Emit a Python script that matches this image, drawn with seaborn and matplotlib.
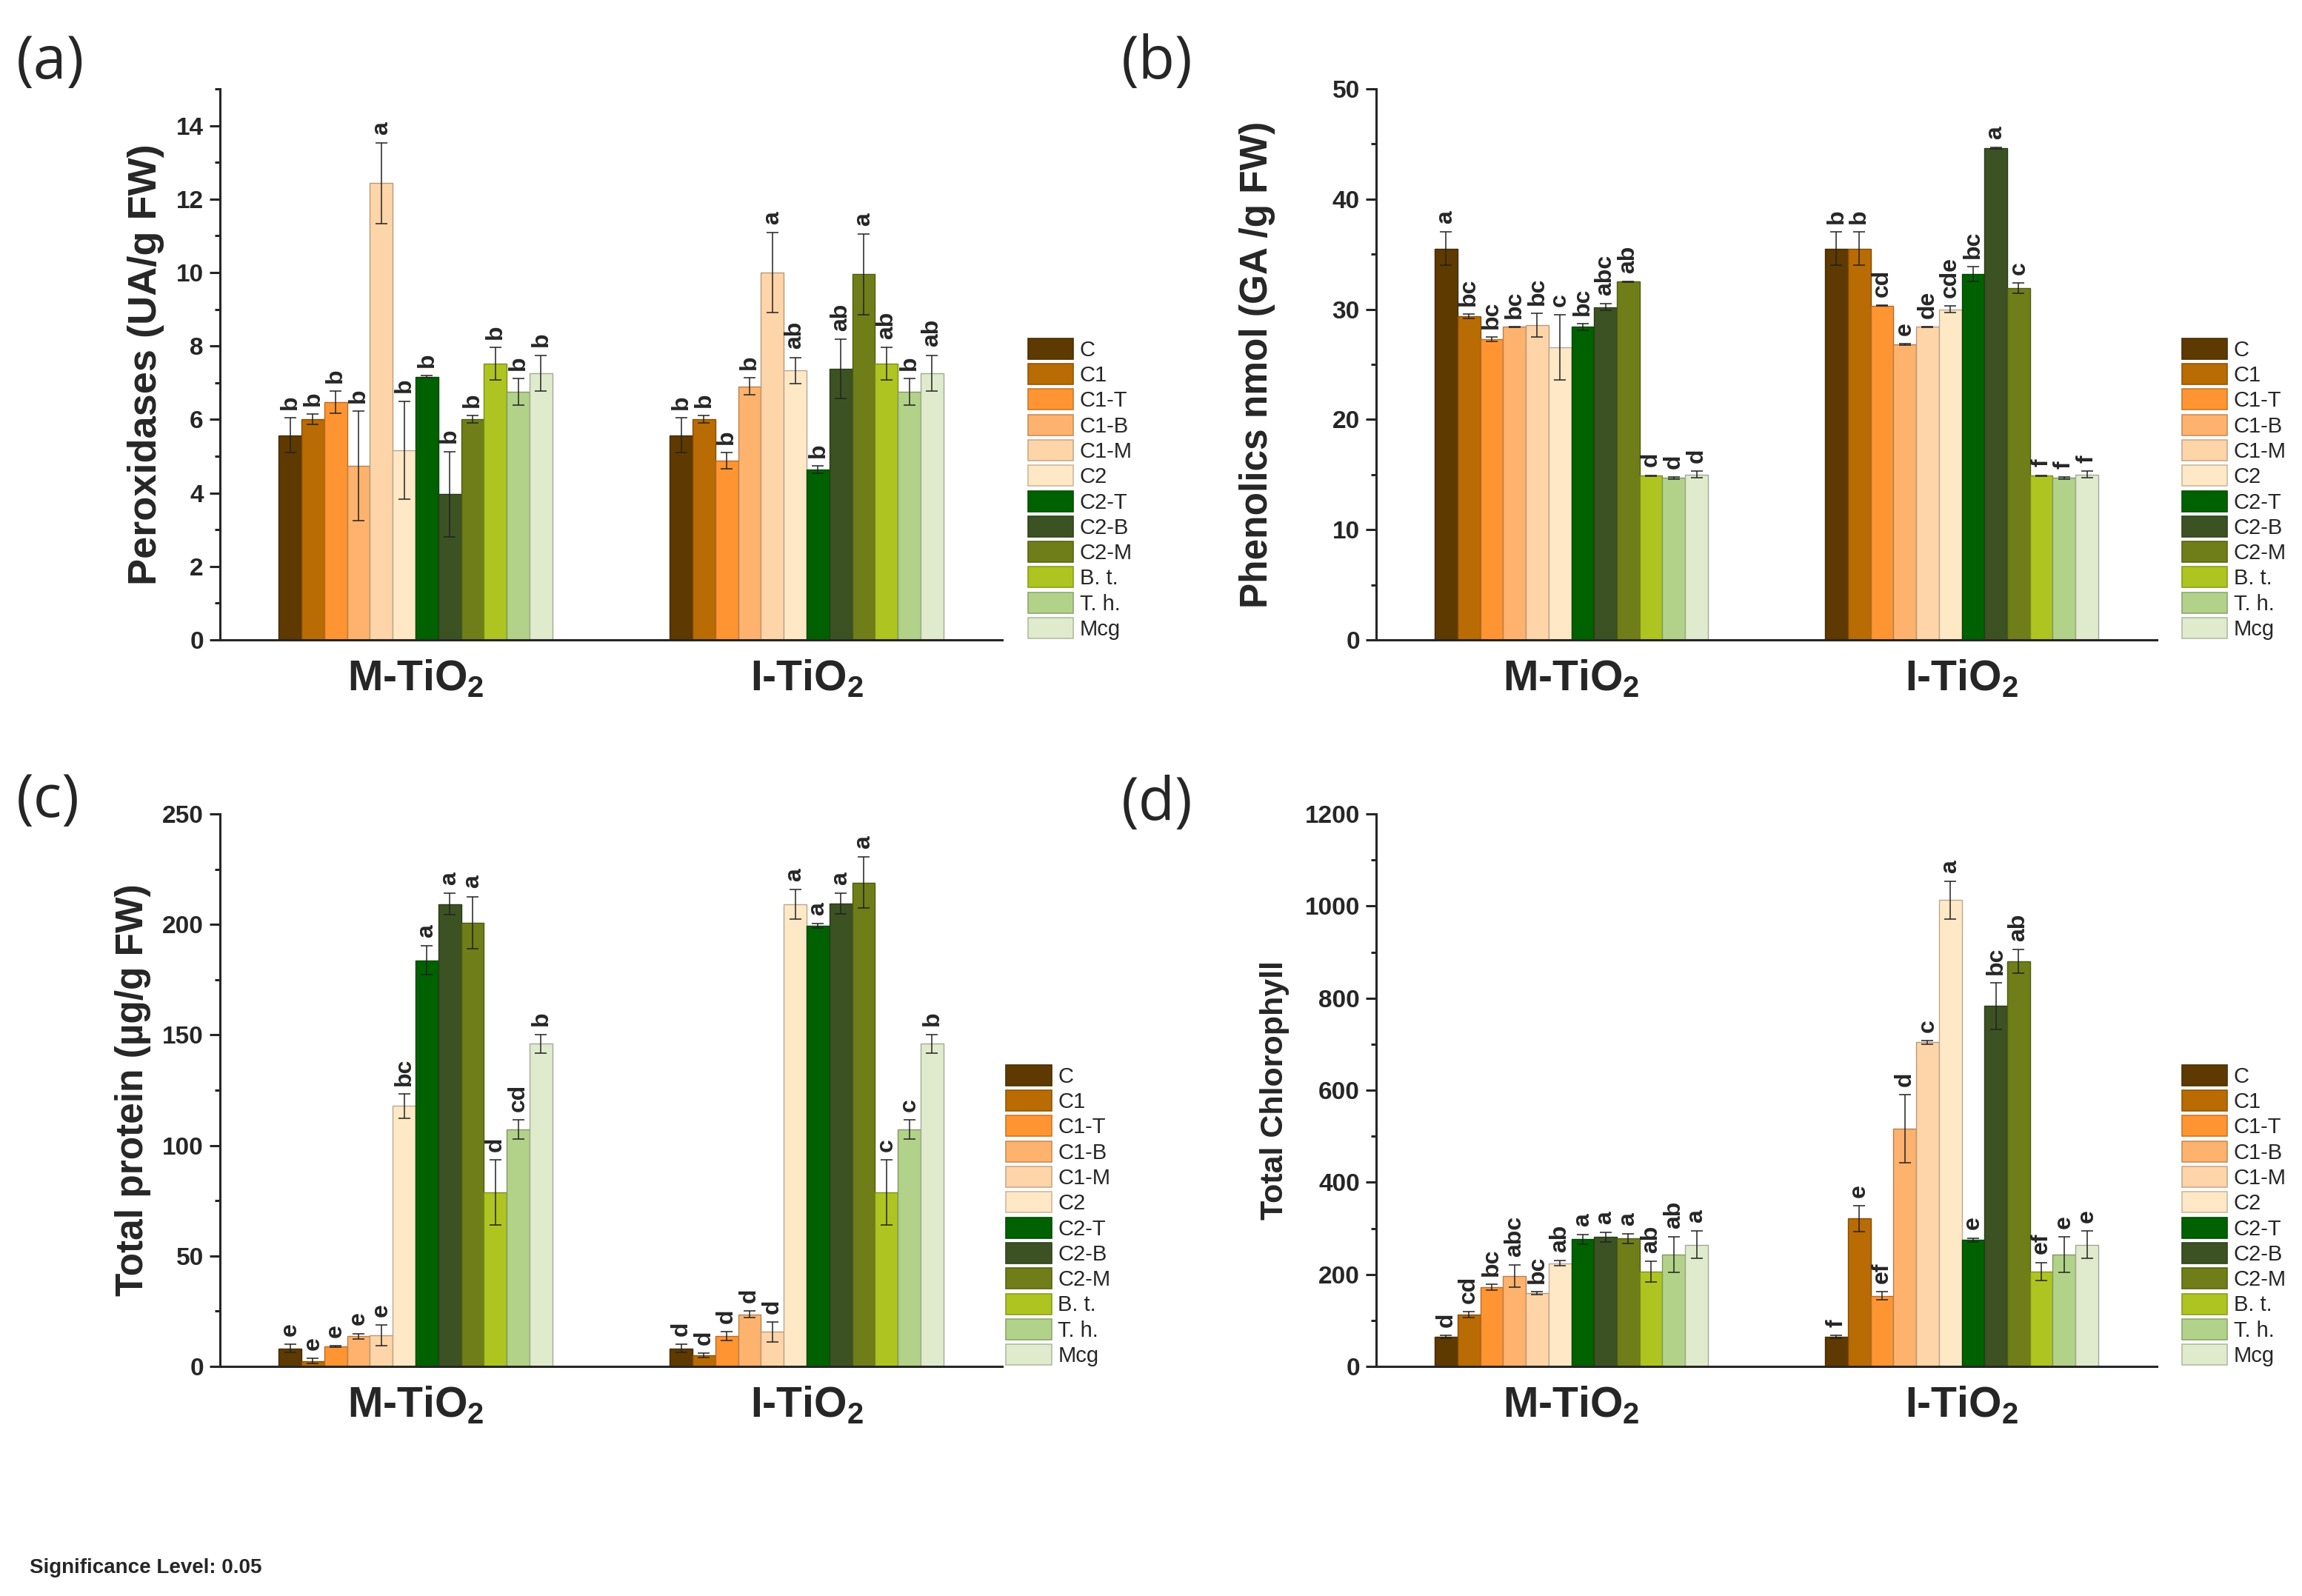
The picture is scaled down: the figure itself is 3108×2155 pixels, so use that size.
import numpy as np
import pandas as pd
import matplotlib
matplotlib.use('Agg')
import matplotlib.pyplot as plt
import matplotlib.colors as mcolors
from matplotlib.patches import Patch
from matplotlib.ticker import AutoMinorLocator, MultipleLocator
import seaborn as sns

# treatments / groups
treatments = ['C', 'C1', 'C1-T', 'C1-B', 'C1-M', 'C2', 'C2-T', 'C2-B', 'C2-M', 'B. t.', 'T. h.', 'Mcg']
groups = ['M-TiO$_{\\mathbf{2}}$', 'I-TiO$_{\\mathbf{2}}$']
colors = ['#5E3A00', '#B96B04', '#FE9532', '#FDB26E', '#FED4A9', '#FFE8C6',
          '#006100', '#3C5223', '#6F7E18', '#AEC521', '#B2D289', '#E0EBCD']

# (a) peroxidases
pox_m = [5.57, 6.0, 6.47, 4.73, 12.43, 5.17, 7.16, 3.97, 6.0, 7.52, 6.76, 7.26]
pox_m_err = [0.47, 0.14, 0.3, 1.49, 1.1, 1.33, 0.03, 1.16, 0.1, 0.44, 0.36, 0.49]
pox_m_let = ['b', 'b', 'b', 'b', 'a', 'b', 'b', 'b', 'b', 'b', 'b', 'b']
pox_i = [5.57, 6.0, 4.88, 6.9, 10.0, 7.33, 4.63, 7.38, 9.95, 7.52, 6.76, 7.26]
pox_i_err = [0.47, 0.1, 0.22, 0.23, 1.09, 0.36, 0.1, 0.81, 1.1, 0.44, 0.36, 0.49]
pox_i_let = ['b', 'b', 'b', 'b', 'a', 'ab', 'b', 'ab', 'a', 'ab', 'b', 'ab']

# (b) phenolics
phe_m = [35.5, 29.35, 27.3, 28.4, 28.58, 26.56, 28.4, 30.2, 32.5, 14.9, 14.7, 15.0]
phe_m_err = [1.5, 0.2, 0.2, 0.05, 1.07, 2.95, 0.28, 0.3, 0.05, 0.05, 0.1, 0.3]
phe_m_let = ['a', 'bc', 'bc', 'bc', 'bc', 'c', 'bc', 'abc', 'ab', 'd', 'd', 'd']
phe_i = [35.5, 35.5, 30.33, 26.8, 28.4, 30.0, 33.2, 44.64, 31.9, 14.9, 14.7, 15.0]
phe_i_err = [1.5, 1.5, 0.05, 0.05, 0.05, 0.3, 0.68, 0.05, 0.47, 0.05, 0.1, 0.3]
phe_i_let = ['b', 'b', 'cd', 'e', 'de', 'cde', 'bc', 'a', 'c', 'f', 'f', 'f']

# (c) total protein
pro_m = [8.15, 2.5, 9.1, 13.6, 14.1, 117.8, 183.8, 209.2, 200.8, 78.8, 107.2, 146.0]
pro_m_err = [1.8, 1.2, 0.3, 1.3, 4.6, 5.5, 6.5, 4.8, 11.8, 14.8, 4.4, 4.3]
pro_m_let = ['e', 'e', 'e', 'e', 'e', 'bc', 'a', 'a', 'a', 'd', 'cd', 'b']
pro_i = [8.15, 4.9, 13.6, 23.5, 15.6, 209.0, 199.4, 209.5, 218.9, 78.8, 107.2, 146.0]
pro_i_err = [1.8, 1.0, 2.0, 1.5, 4.4, 6.7, 1.0, 4.6, 11.6, 14.8, 4.4, 4.3]
pro_i_let = ['d', 'd', 'd', 'd', 'd', 'a', 'a', 'a', 'a', 'c', 'c', 'b']

# (d) total chlorophyll
chl_m = [64, 112.6, 172, 195.7, 159, 224, 276, 281, 277.5, 206, 243, 264.4]
chl_m_err = [3, 6, 7, 24, 3, 6, 10, 10, 10, 22, 38, 30]
chl_m_let = ['d', 'cd', 'bc', 'abc', 'bc', 'ab', 'a', 'a', 'a', 'ab', 'ab', 'a']
chl_i = [64, 321, 153, 515.8, 704, 1012.7, 275, 782.6, 879.9, 206, 243, 264.4]
chl_i_err = [3, 28, 9, 74, 4, 41, 4, 51, 25, 20, 38, 30]
chl_i_let = ['f', 'e', 'ef', 'd', 'c', 'a', 'e', 'bc', 'ab', 'ef', 'e', 'e']

sns.set_style('ticks')
plt.rcParams['font.family'] = ['Liberation Sans', 'DejaVu Sans']
plt.rcParams['mathtext.fontset'] = 'custom'
plt.rcParams['mathtext.bf'] = 'Liberation Sans:bold'
plt.rcParams['mathtext.rm'] = 'Liberation Sans'


def darker(c, f=0.72):
    r, g, b = mcolors.to_rgb(c)
    return (r * f, g * f, b * f)


def panel(ax, m, m_err, m_let, i, i_err, i_let, ylabel, ylabsize, ymax, ystep, labelpad, leg_x):
    df = pd.DataFrame({
        'group': [groups[0]] * len(treatments) + [groups[1]] * len(treatments),
        'treatment': treatments * 2,
        'value': m + i,
    })
    sns.barplot(data=df, x='group', y='value', hue='treatment', hue_order=treatments,
                order=groups, palette=colors, errorbar=None, width=0.7, gap=0,
                saturation=1, legend=False, ax=ax)
    errs = [m_err, i_err]
    lets = [m_let, i_let]
    bar_conts = list(ax.containers)
    for k, cont in enumerate(bar_conts):
        for g, bar in enumerate(cont):
            bar.set_edgecolor(darker(colors[k]))
            bar.set_linewidth(1.0)
            x = bar.get_x() + bar.get_width() / 2
            h = bar.get_height()
            e = errs[g][k]
            ax.errorbar(x, h, yerr=e, color='#222222', elinewidth=1.1, capsize=6,
                        capthick=1.1, zorder=5)
            ax.annotate(lets[g][k], (x, h + e), xytext=(0, 8), textcoords='offset points',
                        rotation=90, ha='center', va='bottom', fontsize=23,
                        fontweight='bold', zorder=6)
    ax.set_xlim(-0.5, 1.5)
    ax.set_ylim(0, ymax)
    ax.yaxis.set_major_locator(MultipleLocator(ystep))
    ax.yaxis.set_minor_locator(AutoMinorLocator(2))
    ax.set_xlabel('')
    ax.set_ylabel(ylabel, fontsize=ylabsize, fontweight='bold', labelpad=labelpad)
    for lab in ax.get_yticklabels():
        lab.set_fontweight('bold')
    ax.tick_params(axis='y', which='major', length=10, width=2.2, labelsize=24, pad=6)
    ax.tick_params(axis='y', which='minor', length=5, width=2.2)
    ax.tick_params(axis='x', length=0, labelsize=41, pad=18)
    for lab in ax.get_xticklabels():
        lab.set_fontweight('bold')
    sns.despine(ax=ax)
    ax.spines['left'].set_linewidth(2.2)
    ax.spines['bottom'].set_linewidth(2.2)
    handles = [Patch(facecolor=c, edgecolor=darker(c, 0.8), linewidth=1.2) for c in colors]
    ax.legend(handles, treatments, loc='lower left', bbox_to_anchor=(leg_x, 0),
              frameon=False, borderaxespad=0, borderpad=0, fontsize=21,
              handlelength=2.1, handleheight=1.1, handletextpad=0.3, labelspacing=0.15)


W, H = 3108, 2155
fig = plt.figure(figsize=(W / 100, H / 100), dpi=100)

ax_a = fig.add_axes([297 / W, 1 - 864 / H, 1056 / W, 744 / H])
ax_b = fig.add_axes([1858 / W, 1 - 864 / H, 1054 / W, 744 / H])
ax_c = fig.add_axes([297 / W, 1 - 1845 / H, 1056 / W, 746 / H])
ax_d = fig.add_axes([1858 / W, 1 - 1845 / H, 1054 / W, 746 / H])

panel(ax_a, pox_m, pox_m_err, pox_m_let, pox_i, pox_i_err, pox_i_let,
      'Peroxidases (UA/g FW)', 39, 15, 2, 11, 1.033)
panel(ax_b, phe_m, phe_m_err, phe_m_let, phe_i, phe_i_err, phe_i_let,
      'Phenolics nmol (GA /g FW)', 37, 50, 10, 55, 1.032)
panel(ax_c, pro_m, pro_m_err, pro_m_let, pro_i, pro_i_err, pro_i_let,
      'Total protein (µg/g FW)', 37, 250, 50, 11, 1.005)
panel(ax_d, chl_m, chl_m_err, chl_m_let, chl_i, chl_i_err, chl_i_let,
      'Total Chlorophyll', 31, 1200, 200, 15, 1.032)

for txt, x, y in [('(a)', 22, 85), ('(b)', 1514, 85), ('(c)', 22, 1082), ('(d)', 1514, 1086)]:
    fig.text(x / W, 1 - y / H, txt, fontsize=58, family=['Open Sans', 'DejaVu Sans'],
             ha='left', va='center')

fig.text(40 / W, 1 - 2117 / H, 'Significance Level: 0.05', fontsize=20,
         fontweight='bold', ha='left', va='center')

fig.savefig('out.png', dpi=100)
